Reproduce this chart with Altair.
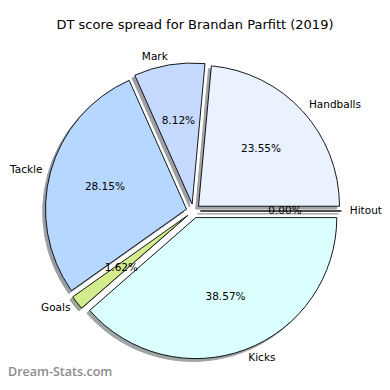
import math
import altair as alt
import pandas as pd

# ---- data ----
title_text = "DT score spread for Brandan Parfitt (2019)"
watermark = "Dream-Stats.com"
categories = ["Handballs", "Mark", "Tackle", "Goals", "Kicks", "Hitout"]
shares = [23.55, 8.12, 28.15, 1.62, 38.57, 0.00]
colors = ["#EAF2FF", "#C6DAFF", "#B6D7FF", "#D2EC8E", "#DBFFFF", "#FFFFFF"]

# ---- layout (pixels, chart coordinates) ----
W, H = 374, 374
CX, CY = 185.3, 203.0
R = 141.0
D = 0.05 * R          # explode distance
SH = 0.02 * R         # shadow offset
LD = 1.06             # label distance (fraction of radius)
FONT = "DejaVu Sans"
FS = 10.5

df = pd.DataFrame({
    "cat": categories,
    "value": shares,
    "color": colors,
    "order": list(range(len(categories))),
})

TAU = 2 * math.pi
base = alt.Chart(df).transform_joinaggregate(
    total="sum(value)"
).transform_window(
    cum="sum(value)", sort=[alt.SortField("order")], frame=[None, 0]
).transform_calculate(
    a0=f"{TAU}*(datum.cum-datum.value)/datum.total",
    a1=f"{TAU}*datum.cum/datum.total",
).transform_calculate(
    am="(datum.a0+datum.a1)/2",
    t0=f"{math.pi/2}-datum.a1",
    t1=f"{math.pi/2}-datum.a0",
).transform_calculate(
    ox=f"{CX}+{D}*cos(datum.am)",
    oy=f"{CY}-{D}*sin(datum.am)",
).transform_calculate(
    sx=f"datum.ox-{SH}",
    sy=f"datum.oy+{SH}",
    lx=f"datum.ox+{LD*R}*cos(datum.am)",
    ly=f"datum.oy-{LD*R}*sin(datum.am)",
    px=f"datum.ox+{0.6*R}*cos(datum.am)",
    py=f"datum.oy-{0.6*R}*sin(datum.am)",
    pct="format(100*datum.value/datum.total, '.2f') + '%'",
    side="cos(datum.am) > 0 ? 'L' : 'R'",
    shade="rgb(0.3*rgb(datum.color).r, 0.3*rgb(datum.color).g, 0.3*rgb(datum.color).b)",
)

shadow = base.mark_arc(radius=R, opacity=0.5, strokeWidth=1).encode(
    x=alt.X("sx:Q", scale=None),
    y=alt.Y("sy:Q", scale=None),
    theta=alt.Theta("t0:Q", scale=None),
    theta2="t1:Q",
    fill=alt.Fill("shade:N", scale=None),
    stroke=alt.Stroke("shade:N", scale=None),
)

wedges = base.mark_arc(radius=R, stroke="black", strokeWidth=0.9).encode(
    x=alt.X("ox:Q", scale=None),
    y=alt.Y("oy:Q", scale=None),
    theta=alt.Theta("t0:Q", scale=None),
    theta2="t1:Q",
    fill=alt.Fill("color:N", scale=None),
)

lab_left = base.transform_filter("datum.side == 'L'").mark_text(
    align="left", baseline="middle", font=FONT, fontSize=FS, color="black"
).encode(x=alt.X("lx:Q", scale=None), y=alt.Y("ly:Q", scale=None), text="cat:N")

lab_right = base.transform_filter("datum.side == 'R'").mark_text(
    align="right", baseline="middle", font=FONT, fontSize=FS, color="black"
).encode(x=alt.X("lx:Q", scale=None), y=alt.Y("ly:Q", scale=None), text="cat:N")

pcts = base.mark_text(
    align="center", baseline="middle", font=FONT, fontSize=FS, color="black"
).encode(x=alt.X("px:Q", scale=None), y=alt.Y("py:Q", scale=None), text="pct:N")

title = alt.Chart(pd.DataFrame({"t": [title_text]})).mark_text(
    align="center", baseline="middle", font=FONT, fontSize=13, color="black"
).encode(x=alt.value(187), y=alt.value(17), text="t:N")

wm = alt.Chart(pd.DataFrame({"t": [watermark]})).mark_text(
    align="left", baseline="alphabetic", font="Open Sans", fontWeight=600,
    fontSize=12.5, color="#8c8c8c"
).encode(x=alt.value(0), y=alt.value(H - 6), text="t:N")

chart = alt.layer(shadow, wedges, lab_left, lab_right, pcts, title, wm).properties(
    width=W, height=H, padding=0, autosize=alt.AutoSizeParams(type="none")
).configure_view(stroke=None)

chart.save("out.html", embed_options={"renderer": "svg", "actions": False})
